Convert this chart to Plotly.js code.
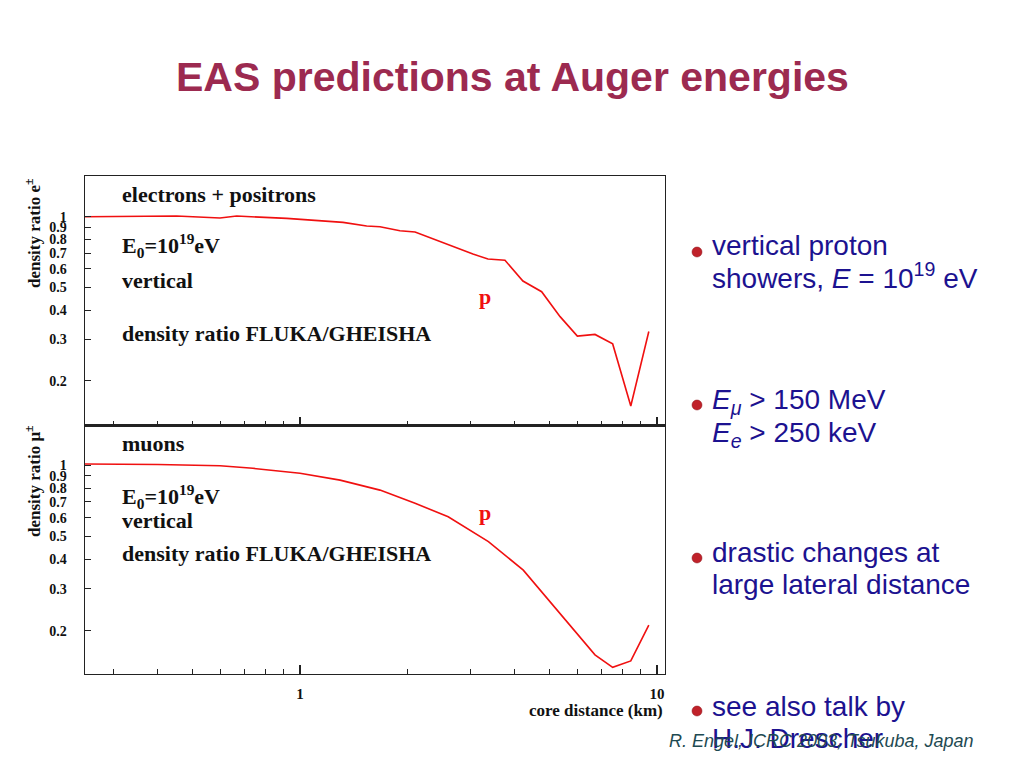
<!DOCTYPE html>
<html>
<head>
<meta charset="utf-8">
<script src="https://cdn.plot.ly/plotly-3.0.1.min.js"></script>
<style>html,body{margin:0;padding:0;background:#fff;}#chart{width:1023px;height:767px;}</style>
</head>
<body>
<div id="chart"></div>
<script>
// Electrons + positrons: density ratio FLUKA/GHEISHA vs core distance (km)
var eDist  = [0.25, 0.451, 0.597, 0.665, 0.918, 1.138, 1.32, 1.537, 1.675, 1.905, 2.10, 3.05, 3.36, 3.75, 4.21, 4.75, 5.35, 5.98, 6.70, 7.51, 8.44, 9.48];
var eRatio = [1.0, 1.007, 0.987, 1.007, 0.984, 0.959, 0.946, 0.913, 0.906, 0.872, 0.861, 0.693, 0.660, 0.652, 0.532, 0.479, 0.375, 0.310, 0.315, 0.287, 0.156, 0.324];
// Muons
var muDist  = [0.25, 0.40, 0.597, 0.738, 1.0, 1.295, 1.675, 2.1, 2.6, 3.37, 4.22, 5.35, 6.70, 7.51, 8.44, 9.48];
var muRatio = [1.01, 1.005, 0.993, 0.969, 0.923, 0.864, 0.784, 0.69, 0.605, 0.475, 0.36, 0.237, 0.158, 0.140, 0.149, 0.211];

var yTickVals = [0.2, 0.3, 0.4, 0.5, 0.6, 0.7, 0.8, 0.9, 1];
var yTickText = ['0.2', '0.3', '0.4', '0.5', '0.6', '0.7', '0.8', '0.9', '1'];
var xTickVals = [1, 10];
var xTickText = ['1', '10'];
var xMinorVals = [0.3, 0.4, 0.5, 0.6, 0.7, 0.8, 0.9, 2, 3, 4, 5, 6, 7, 8, 9];

var SERIF = 'Liberation Serif, Times New Roman, serif';
var SANS = 'Liberation Sans, Arial, sans-serif';
var RED = '#f01010';
var BLUE = '#1c1290';

var traces = [
  {x: eDist, y: eRatio, xaxis: 'x', yaxis: 'y', mode: 'lines', line: {color: RED, width: 1.6}, hoverinfo: 'skip'},
  {x: muDist, y: muRatio, xaxis: 'x2', yaxis: 'y2', mode: 'lines', line: {color: RED, width: 1.6}, hoverinfo: 'skip'}
];

function xAxis(anchor, labels) {
  return {
    type: 'log', range: [-0.602, 1.022], domain: [0.0831, 0.650], anchor: anchor,
    showgrid: false, zeroline: false, showline: true, linecolor: '#222', linewidth: 1.5, mirror: true,
    tickmode: 'array', tickvals: xTickVals, ticktext: labels ? xTickText : ['', ''],
    ticks: 'inside', ticklen: 9, tickwidth: 1.2, tickcolor: '#222',
    minor: {tickmode: 'array', tickvals: xMinorVals, ticks: 'inside', ticklen: 5, tickwidth: 1, tickcolor: '#222'},
    showticklabels: labels,
    ticklabelstandoff: 6,
    tickfont: {family: SERIF, size: 15, color: '#111', weight: 'bold'},
    fixedrange: true
  };
}
function yAxis(anchor, dom, rng) {
  return {
    type: 'log', range: rng, domain: dom, anchor: anchor,
    showgrid: false, zeroline: false, showline: true, linecolor: '#222', linewidth: 1.5, mirror: true,
    tickmode: 'array', tickvals: yTickVals, ticktext: yTickText,
    ticks: 'inside', ticklen: 6, tickwidth: 1, tickcolor: '#222',
    ticklabelstandoff: 14,
    tickfont: {family: SERIF, size: 14, color: '#111', weight: 'bold'},
    fixedrange: true
  };
}

function txt(x, y, text, size, opts) {
  var a = {xref: 'paper', yref: 'paper', x: x / 1023, y: 1 - y / 767, text: text, showarrow: false,
    xanchor: 'left', yanchor: 'middle', font: {family: SERIF, size: size, color: '#111', weight: 'bold'}};
  for (var k in (opts || {})) a[k] = opts[k];
  return a;
}
function bullet(x, y, text) {
  return txt(x, y, text, 28, {font: {family: SANS, size: 28, color: BLUE}});
}

var annotations = [
  txt(512, 77, 'EAS predictions at Auger energies', 41, {xanchor: 'center', font: {family: SANS, size: 41, color: '#9c2a50', weight: 'bold'}}),
  // top panel texts
  txt(120, 194, 'electrons + positrons', 22),
  txt(120, 246, 'E<sub>0</sub>=10<sup>19</sup>eV', 22),
  txt(120, 281, 'vertical', 22),
  txt(120, 333, 'density ratio FLUKA/GHEISHA', 22),
  txt(477, 296, 'p', 22, {font: {family: SERIF, size: 22, color: RED, weight: 'bold'}}),
  txt(33, 233, 'density ratio e<sup>±</sup>', 17, {xanchor: 'center', textangle: -90}),
  // bottom panel texts
  txt(120, 443, 'muons', 22),
  txt(120, 496, 'E<sub>0</sub>=10<sup>19</sup>eV', 22),
  txt(120, 520, 'vertical', 22),
  txt(120, 553, 'density ratio FLUKA/GHEISHA', 22),
  txt(477, 512, 'p', 22, {font: {family: SERIF, size: 22, color: RED, weight: 'bold'}}),
  txt(33, 481, 'density ratio μ<sup>±</sup>', 17, {xanchor: 'center', textangle: -90}),
  txt(665, 710, 'core distance (km)', 17, {xanchor: 'right'}),
  // bullets
  bullet(710, 246, 'vertical proton'),
  bullet(710, 276, 'showers, <i>E</i> = 10<sup>19</sup> eV'),
  bullet(710, 402, '<i>E</i><sub><i>μ</i></sub> > 150 MeV'),
  bullet(710, 434, '<i>E</i><sub><i>e</i></sub> > 250 keV'),
  bullet(710, 552, 'drastic changes at'),
  bullet(710, 584, 'large lateral distance'),
  bullet(710, 706, 'see also talk by'),
  bullet(710, 738, 'H.J. Drescher'),
  txt(976, 741, '<i>R. Engel, ICRC 2003, Tsukuba, Japan</i>', 18, {xanchor: 'right', font: {family: SANS, size: 18, color: '#1e4a52'}})
];

var bulletY = [252, 405, 558, 711];
var shapes = bulletY.map(function (by) {
  return {type: 'circle', xref: 'paper', yref: 'paper',
    x0: 692 / 1023, x1: 702 / 1023, y0: 1 - (by + 5) / 767, y1: 1 - (by - 5) / 767,
    fillcolor: '#c0222a', line: {color: '#8a1218', width: 0.5}};
});

var layout = {
  width: 1023, height: 767,
  margin: {l: 0, r: 0, t: 0, b: 0},
  paper_bgcolor: '#ffffff', plot_bgcolor: '#ffffff',
  showlegend: false,
  xaxis: xAxis('y', false),
  yaxis: yAxis('x', [0.4446, 0.7705], [-0.892, 0.1735]),
  xaxis2: xAxis('y2', true),
  yaxis2: yAxis('x2', [0.1213, 0.4446], [-0.882, 0.165]),
  annotations: annotations,
  shapes: shapes
};

Plotly.newPlot('chart', traces, layout, {displayModeBar: false, staticPlot: true});
</script>
</body>
</html>
